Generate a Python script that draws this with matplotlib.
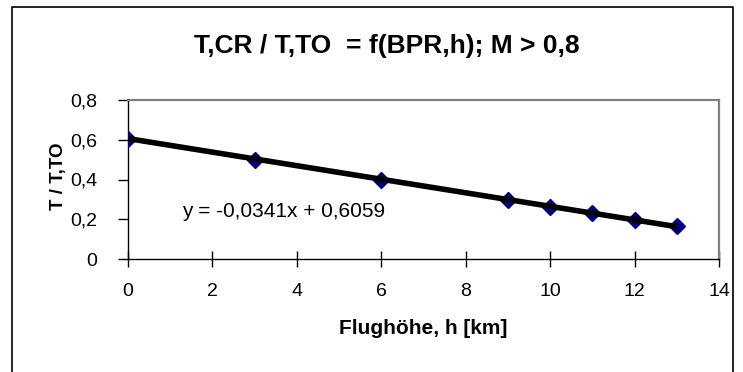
import matplotlib
matplotlib.use("Agg")
import matplotlib.pyplot as plt
import numpy as np
from matplotlib.lines import Line2D

plt.rcParams["font.family"] = ["Liberation Sans", "DejaVu Sans"]

# data
hoehe = [0, 3, 6, 9, 10, 11, 12, 13]
schub = [0.605, 0.50, 0.40, 0.298, 0.263, 0.23, 0.197, 0.164]
slope = -0.0341
intercept = 0.6059
x_ticks = [0, 2, 4, 6, 8, 10, 12, 14]
y_ticks = [0, 0.2, 0.4, 0.6, 0.8]
y_ticklabels = ["0", "0,2", "0,4", "0,6", "0,8"]

W, H = 743, 372
fig = plt.figure(figsize=(W / 100, H / 100), dpi=100)
ax = fig.add_axes([128 / W, 1 - 259 / H, (719 - 128) / W, (259 - 100) / H])

# markers, then trendline on top
ax.plot(hoehe, schub, linestyle="none", marker="D", markersize=8.5,
        color="#000080", zorder=3)
xl = np.array([hoehe[0], hoehe[-1]])
ax.plot(xl, slope * xl + intercept, color="black", lw=4,
        solid_capstyle="butt", zorder=4)

ax.set_xlim(0, 14)
ax.set_ylim(0, 0.8)
ax.set_xticks(x_ticks)
ax.set_yticks(y_ticks)
ax.set_yticklabels(y_ticklabels)
ax.tick_params(axis="x", direction="inout", length=12, width=1,
               labelsize=14, pad=11)
ax.tick_params(axis="y", direction="out", length=7, width=1,
               labelsize=14, pad=15)

for s in ["left", "bottom"]:
    ax.spines[s].set_color("black")
    ax.spines[s].set_linewidth(1)
for s in ["top", "right"]:
    ax.spines[s].set_color("#808080")
    ax.spines[s].set_linewidth(1.6)

ax.text(0.091, 0.296, "y = -0,0341x + 0,6059", transform=ax.transAxes,
        fontsize=15, ha="left", va="center")

fig.text(387 / W, 1 - 46 / H, "T,CR / T,TO  = f(BPR,h); M > 0,8",
         fontsize=19, fontweight="bold", ha="center", va="center")
fig.text(423 / W, 1 - 328 / H, "Flughöhe, h [km]", fontsize=15,
         fontweight="bold", ha="center", va="center")
fig.text(59 / W, 1 - 176 / H, "T / T,TO", fontsize=13.5, fontweight="bold",
         ha="center", va="center", rotation=90)

# outer chart frame (bottom edge cut off in the original)
fx = [12 / W, 12 / W, 733 / W, 733 / W]
fy = [0, 1 - 7 / H, 1 - 7 / H, 0]
fig.add_artist(Line2D(fx, fy, color="black", lw=1.2, transform=fig.transFigure))

fig.savefig("out.png", dpi=100, facecolor="white")
